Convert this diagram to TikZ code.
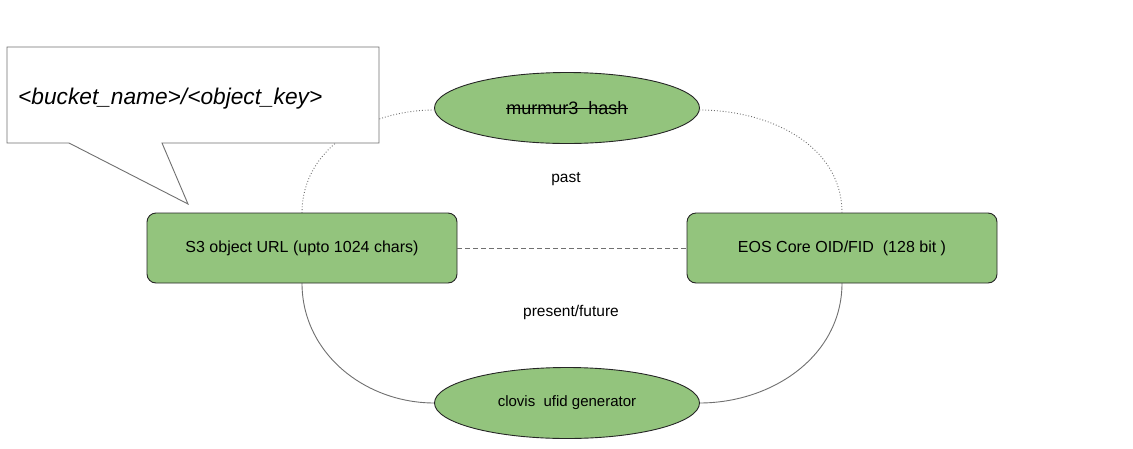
\documentclass[tikz,border=0pt]{standalone}
\usepackage{fontspec}
\setmainfont{Liberation Sans}
\usetikzlibrary{shapes.geometric}
\definecolor{gfill}{HTML}{93C47D}
\definecolor{lgray}{HTML}{707070}
\begin{document}
\begin{tikzpicture}[x=1pt,y=-1pt,
  box/.style={draw=black!85,line width=0.9pt,fill=gfill,rounded corners=9pt,minimum width=310pt,minimum height=70pt,inner sep=0pt,font=\fontsize{16}{18}\selectfont},
  oval/.style={draw=black!85,line width=0.9pt,fill=gfill,ellipse,minimum width=265pt,minimum height=71pt,inner sep=0pt,font=\fontsize{15}{17}\selectfont},
  lbl/.style={font=\fontsize{15.5}{17}\selectfont,inner sep=0pt},
  dotline/.style={draw=lgray,line width=0.9pt,dotted},
  solline/.style={draw=lgray,line width=0.9pt},
  dashline/.style={draw=lgray,line width=0.9pt,dash pattern=on 5pt off 3pt}]
\useasboundingbox[fill=white] (0,0) rectangle (1133,448);
% connectors drawn below nodes
\coordinate (s3n) at (302,213);
\coordinate (s3s) at (302,283);
\coordinate (eosn) at (842,213);
\coordinate (eoss) at (842,283);
\draw[dotline] (s3n) to[out=90,in=180] (434.5,110);
\draw[dotline] (699.5,110) to[out=0,in=90] (eosn);
\draw[solline] (s3s) to[out=-90,in=180] (434.5,403);
\draw[solline] (699.5,403) to[out=0,in=-90] (eoss);
% nodes
\node[box] (s3) at (302,248) {S3 object URL (upto 1024 chars)};
\node[box] (eos) at (842,248) {EOS Core OID/FID\ \ (128 bit )};
\node[oval] (mur) at (567,108) {};
\node[inner sep=0pt,font=\fontsize{18}{20}\selectfont] (murt) at (mur.center) {murmur3\ \ hash};
\draw[line width=1.1pt] ([yshift=-0.5pt]murt.west) -- ([yshift=-0.5pt]murt.east);
\node[oval] (clo) at (567,403) {clovis\ \ ufid generator};
\node[lbl] (past) at (566,179) {past};
\node[lbl] (pres) at (571,312) {present/future};
\draw[dashline] (s3.east) -- (eos.west);
% callout
\draw[draw=lgray,line width=0.9pt,fill=white,line join=miter] (7,47) -- (379,47) -- (379,143) -- (162,143) -- (188,204) -- (69,143) -- (7,143) -- cycle;
\node[anchor=base west,inner sep=0pt,font=\fontsize{22.7}{24}\selectfont\itshape] (key) at (18,104) {<bucket\_name>/<object\_key>};
\end{tikzpicture}
\end{document}
